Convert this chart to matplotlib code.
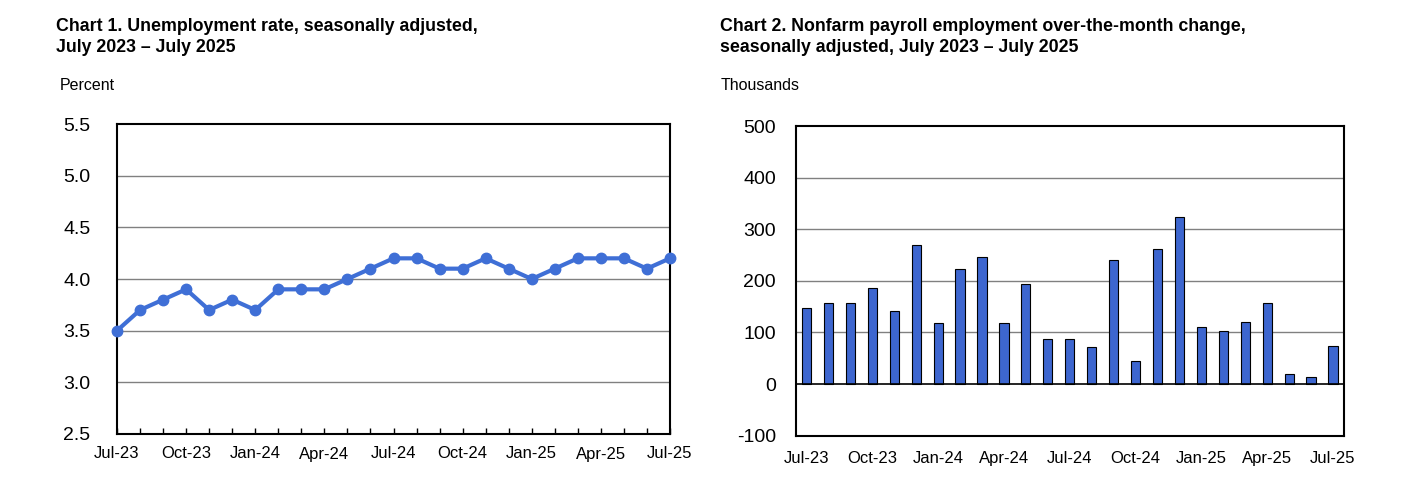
import matplotlib
matplotlib.use('Agg')
import matplotlib.pyplot as plt

plt.rcParams['font.family'] = ['Liberation Sans', 'DejaVu Sans']

months = ['Jul-23', 'Aug-23', 'Sep-23', 'Oct-23', 'Nov-23', 'Dec-23',
          'Jan-24', 'Feb-24', 'Mar-24', 'Apr-24', 'May-24', 'Jun-24',
          'Jul-24', 'Aug-24', 'Sep-24', 'Oct-24', 'Nov-24', 'Dec-24',
          'Jan-25', 'Feb-25', 'Mar-25', 'Apr-25', 'May-25', 'Jun-25', 'Jul-25']
unemployment_rate = [3.5, 3.7, 3.8, 3.9, 3.7, 3.8, 3.7, 3.9, 3.9, 3.9, 4.0, 4.1,
                     4.2, 4.2, 4.1, 4.1, 4.2, 4.1, 4.0, 4.1, 4.2, 4.2, 4.2, 4.1, 4.2]
payroll_change = [148, 157, 157, 186, 141, 269, 119, 222, 246, 118, 193, 87,
                  88, 72, 240, 44, 261, 323, 111, 102, 120, 157, 19, 14, 73]

rate_ticks = [2.5, 3.0, 3.5, 4.0, 4.5, 5.0, 5.5]
payroll_ticks = [-100, 0, 100, 200, 300, 400, 500]

line_blue = '#3f6fd6'
bar_blue = '#3d66cf'
W, H = 1416, 480

fig = plt.figure(figsize=(W / 100, H / 100), dpi=100)

def px_axes(left, top, right, bottom):
    return fig.add_axes([left / W, 1 - bottom / H, (right - left) / W, (bottom - top) / H])

# chart 1
ax1 = px_axes(117, 124, 670, 434)
x = list(range(len(months)))
ax1.plot(x, unemployment_rate, color=line_blue, lw=3, marker='o', markersize=7.5, clip_on=False, zorder=3)
ax1.set_xlim(0, len(months) - 1)
ax1.set_ylim(2.5, 5.5)
ax1.set_yticks(rate_ticks)
ax1.set_yticklabels([f'{t:.1f}' for t in rate_ticks], fontsize=14)
ax1.set_xticks(x)
ax1.set_xticklabels([m if i % 3 == 0 else '' for i, m in enumerate(months)], fontsize=12)
ax1.tick_params(axis='x', direction='in', length=4, width=1, pad=9)
ax1.tick_params(axis='y', length=0, pad=19)
for t in rate_ticks[1:-1]:
    ax1.axhline(t, color='#808080', lw=1, zorder=1)
for s in ax1.spines.values():
    s.set_linewidth(1.5)

fig.text(56 / W, 1 - 18 / H, 'Chart 1. Unemployment rate, seasonally adjusted,\nJuly 2023 \u2013 July 2025',
         fontsize=12.8, fontweight='bold', va='top', linespacing=1.3)
fig.text(60 / W, 1 - 86 / H, 'Percent', fontsize=11.5, va='center')

# chart 2
ax2 = px_axes(795.5, 126, 1344, 435.7)
ax2.bar(x, payroll_change, width=0.42, color=bar_blue, edgecolor='black', lw=0.8, zorder=3)
ax2.set_xlim(-0.5, len(months) - 0.5)
ax2.set_ylim(-100, 500)
ax2.set_yticks(payroll_ticks)
ax2.set_yticklabels([str(t) for t in payroll_ticks], fontsize=14)
ax2.set_xticks(x[::3])
ax2.set_xticklabels(months[::3], fontsize=12)
ax2.tick_params(axis='x', length=0, pad=11)
ax2.tick_params(axis='y', length=0, pad=14)
for t in payroll_ticks[1:-1]:
    ax2.axhline(t, color='black' if t == 0 else '#808080', lw=1.2 if t == 0 else 1, zorder=1 if t else 4)
for s in ax2.spines.values():
    s.set_linewidth(1.5)

fig.text(720 / W, 1 - 18 / H, 'Chart 2. Nonfarm payroll employment over-the-month change,\nseasonally adjusted, July 2023 \u2013 July 2025',
         fontsize=12.8, fontweight='bold', va='top', linespacing=1.3)
fig.text(721 / W, 1 - 86 / H, 'Thousands', fontsize=11.5, va='center')

fig.savefig('out.png', dpi=100)
